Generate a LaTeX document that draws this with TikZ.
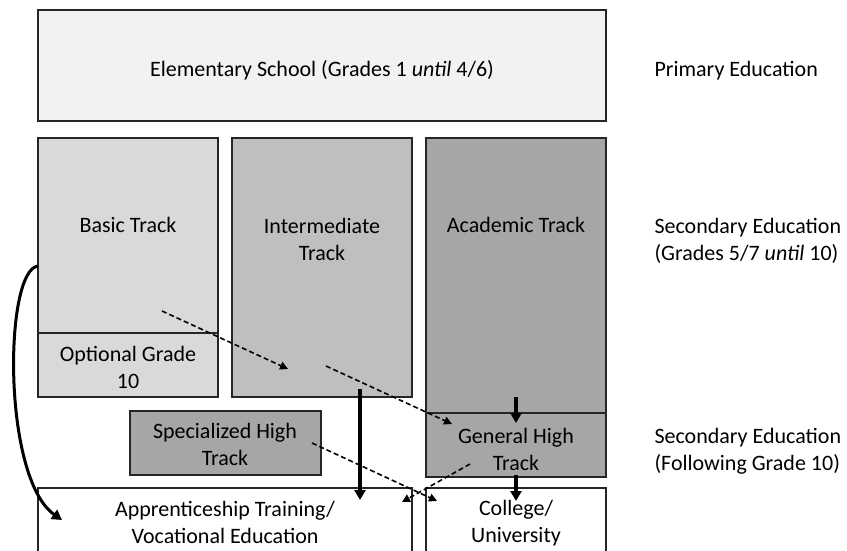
\documentclass[tikz,border=0pt]{standalone}
\usepackage{fontspec}
\setmainfont{Carlito}
\usetikzlibrary{arrows.meta}
\definecolor{grayA}{HTML}{F2F2F2}
\definecolor{grayB}{HTML}{D9D9D9}
\definecolor{grayC}{HTML}{BFBFBF}
\definecolor{grayD}{HTML}{A6A6A6}
\begin{document}
\begin{tikzpicture}[x=1pt,y=-1pt,
  box/.style={draw=black!85,line width=1.1pt,inner sep=0pt,outer sep=0pt},
  txt/.style={font=\fontsize{22}{27}\selectfont,align=center},
  bigarrow/.style={line width=3.4pt,-{Triangle[length=10pt,width=11pt]}},
  dasharrow/.style={line width=1.6pt,dash pattern=on 5pt off 3pt,-{Triangle[length=8pt,width=8pt]}}]
\clip (0,0) rectangle (847,551);
% boxes
\node[box,fill=grayA,minimum width=568pt,minimum height=111pt](elem)at(322,65.5){};
\node[box,fill=grayB,minimum width=180pt,minimum height=195pt](basic)at(128,235.5){};
\node[box,fill=grayB,minimum width=180pt,minimum height=64pt](opt)at(128,365){};
\node[box,fill=grayC,minimum width=180pt,minimum height=259pt](inter)at(322,267.5){};
\node[box,fill=grayD,minimum width=180pt,minimum height=275pt](acad)at(516,275.5){};
\node[box,fill=grayD,minimum width=180pt,minimum height=64pt](gen)at(516,445){};
\node[box,fill=grayD,minimum width=191pt,minimum height=64pt](spec)at(225.5,443){};
\node[box,fill=white,minimum width=374pt,minimum height=80pt](appr)at(225,528){};
\node[box,fill=white,minimum width=180pt,minimum height=80pt](coll)at(516,528){};
% texts
\node[txt](elemT)at(322,70){Elementary School (Grades 1 \textit{until} 4/6)};
\node[txt,anchor=west](prim)at(651,71){Primary Education};
\node[txt](basicT)at(128,225){Basic Track};
\node[txt](interT)at(322,239){Intermediate\\Track};
\node[txt](acadT)at(516,225){Academic Track};
\node[txt,anchor=west,align=left](sec1)at(651,241){Secondary Education\\(Grades 5/7 \textit{until} 10)};
\node[txt](optT)at(128,367){Optional Grade\\10};
\node[txt](specT)at(225,444){Specialized High\\Track};
\node[txt](genT)at(516,449){General High\\Track};
\node[txt,anchor=west,align=left](sec2)at(651,451){Secondary Education\\(Following Grade 10)};
\node[txt](apprT)at(225,522){Apprenticeship Training/\\Vocational Education};
\node[txt](collT)at(516,523){College/\\University};
% arrow ends
\coordinate(B1)at(162,311);\coordinate(B2)at(288,369);
\coordinate(I1)at(326,366);\coordinate(G1)at(452,424);
\coordinate(S1)at(312,443);\coordinate(S2)at(437,501);
\coordinate(G2)at(470,464);\coordinate(A1)at(402,502);
\coordinate(I2)at(360,389);\coordinate(A2)at(360,500);
\coordinate(K1)at(516,397);\coordinate(K2)at(516,423);
\coordinate(G3)at(516,475);\coordinate(U1)at(516,501);
\coordinate(C1)at(38,266);\coordinate(C2)at(62,520);
\draw[dasharrow](B1)--(B2);
\draw[dasharrow](I1)--(G1);
\draw[dasharrow](S1)--(S2);
\draw[dasharrow](G2)--(A1);
\draw[bigarrow](I2)--(A2);
\draw[bigarrow](K1)--(K2);
\draw[bigarrow](G3)--(U1);
\draw[bigarrow,line width=3pt](C1)..controls(4,270)and(2,478)..(C2);
\end{tikzpicture}
\end{document}
